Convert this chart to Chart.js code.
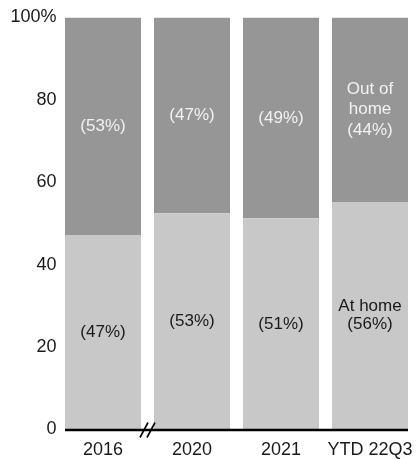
<!DOCTYPE html>
<html>
<head>
<meta charset="utf-8">
<script src="https://cdn.jsdelivr.net/npm/chart.js@4"></script>
<style>
  html, body { margin: 0; padding: 0; background: #fff; }
  #wrap { width: 416px; height: 459px; }
</style>
</head>
<body>
<div id="wrap"><canvas id="barChart" width="416" height="459"></canvas></div>
<script>
const categories = ['2016', '2020', '2021', 'YTD 22Q3'];
// bar heights as drawn
const atHome = [47.2, 52.5, 51.3, 55.2];
const outOfHome = [52.8, 47.5, 48.7, 44.8];
// shares as printed on the bars
const atHomeShare = [47, 53, 51, 56];
const outOfHomeShare = [53, 47, 49, 44];
const yTicks = [0, 20, 40, 60, 80, 100];
// extra text shown only on the last bar
const atHomeNote = ['', '', '', 'At home'];
const outOfHomeNote = ['', '', '', 'Out of|home'];

const FONT = 'Arial, "Liberation Sans", sans-serif';

// writes the share inside each segment
const segmentLabels = {
    id: 'segmentLabels',
    afterDatasetsDraw(chart) {
        const ctx = chart.ctx;
        ctx.save();
        ctx.font = '17px ' + FONT;
        ctx.textAlign = 'center';
        ctx.textBaseline = 'middle';
        chart.data.datasets.forEach(function(ds, di) {
            const meta = chart.getDatasetMeta(di);
            meta.data.forEach(function(bar, i) {
                const note = ds.notes[i];
                const lines = note ? note.split('|') : [];
                lines.push('(' + ds.shares[i] + '%)');
                const mid = (bar.y + bar.base) / 2;
                const lh = ds.lineHeight;
                ctx.fillStyle = ds.labelColor;
                lines.forEach(function(t, k) {
                    ctx.fillText(t, bar.x, mid + (k - (lines.length - 1) / 2) * lh);
                });
            });
        });
        ctx.restore();
    }
};

// x axis line with the break between 2016 and 2020
const axisLine = {
    id: 'axisLine',
    afterDraw(chart) {
        const ctx = chart.ctx;
        const bars = chart.getDatasetMeta(0).data;
        const y = chart.scales.y.getPixelForValue(0) + 0.5;
        const left = bars[0].x - bars[0].width / 2;
        const right = bars[bars.length - 1].x + bars[bars.length - 1].width / 2;
        const bx = (bars[0].x + bars[1].x) / 2;
        ctx.save();
        ctx.strokeStyle = '#000';
        ctx.lineWidth = 2.5;
        ctx.beginPath();
        ctx.moveTo(left, y);
        ctx.lineTo(right, y);
        ctx.stroke();
        ctx.lineWidth = 1.6;
        [-3.5, 3.5].forEach(function(dx) {
            ctx.beginPath();
            ctx.moveTo(bx + dx - 4, y + 7.5);
            ctx.lineTo(bx + dx + 4, y - 7.5);
            ctx.stroke();
        });
        ctx.restore();
    }
};

new Chart(document.getElementById('barChart').getContext('2d'), {
    type: 'bar',
    data: {
        labels: categories,
        datasets: [
            {
                label: 'At home',
                data: atHome,
                shares: atHomeShare,
                notes: atHomeNote,
                labelColor: '#1a1a1a',
                lineHeight: 18,
                backgroundColor: '#c8c8c8',
                barPercentage: 0.854,
                categoryPercentage: 1
            },
            {
                label: 'Out of home',
                data: outOfHome,
                shares: outOfHomeShare,
                notes: outOfHomeNote,
                labelColor: '#f2f2f2',
                lineHeight: 20.5,
                backgroundColor: '#969696',
                barPercentage: 0.854,
                categoryPercentage: 1
            }
        ]
    },
    options: {
        responsive: false,
        animation: false,
        layout: { padding: { top: 17.5, right: 1.5, bottom: 0, left: 0 } },
        plugins: {
            legend: { display: false },
            tooltip: { enabled: false }
        },
        scales: {
            x: {
                stacked: true,
                grid: { display: false, drawTicks: false },
                border: { display: false },
                ticks: {
                    color: '#1a1a1a',
                    font: { family: FONT, size: 18 },
                    padding: 10,
                    maxRotation: 0
                },
                afterFit(axis) {
                    axis.height = 29.5;
                    axis.paddingLeft = 0;
                    axis.paddingRight = 0;
                }
            },
            y: {
                stacked: true,
                min: 0,
                max: 100,
                grid: { display: false, drawTicks: false },
                border: { display: false },
                afterBuildTicks(axis) {
                    axis.ticks = yTicks.map(v => ({ value: v }));
                },
                ticks: {
                    color: '#1a1a1a',
                    font: { family: FONT, size: 18 },
                    padding: 2,
                    callback: v => v === 100 ? '100%' : String(v)
                },
                afterFit(axis) {
                    axis.width = 58.5;
                    axis.paddingTop = 0;
                    axis.paddingBottom = 0;
                }
            }
        }
    },
    plugins: [segmentLabels, axisLine]
});
</script>
</body>
</html>
